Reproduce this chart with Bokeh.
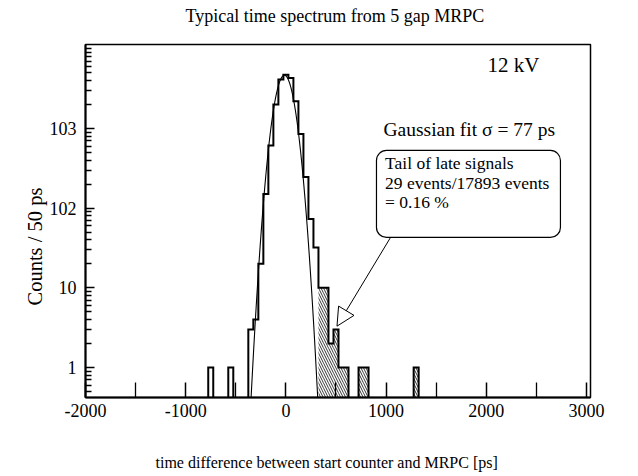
import numpy as np
from bokeh.plotting import figure
from bokeh.models import (Range1d, FixedTicker, Label, BoxAnnotation, Arrow,
                          NormalHead, ColumnDataSource, Title)
from bokeh.embed import file_html
from bokeh.resources import INLINE

# ---------------- data ----------------
bin_width = 50  # ps
core_centers = [-750, -550, -350, -300, -250, -200, -150, -100, -50, 0, 50,
                100, 150, 200, 250, 300]
core_counts = [1, 1, 3, 4, 20, 150, 610, 2000, 4100, 4700, 4300,
               2200, 850, 245, 73, 32]
tail_centers = [350, 400, 450, 500, 550, 600, 750, 800, 1300]
tail_counts = [10, 10, 2, 3, 1, 1, 1, 1, 1]

fit_mean = -15.0      # ps
fit_sigma = 77.0      # ps (quoted on the chart)
fit_amplitude = 4650  # counts / bin at the mean

x_ticks = [-2000, -1000, 0, 1000, 2000, 3000]
x_tick_labels = ["-2000", "-1000", "0", "1000", "2000", "3000"]
x_minor_ticks = [-1500, -500, 500, 1500, 2500]
y_ticks = [1, 10, 100, 1000]
y_tick_labels = ["1", "10", "102", "103"]

title_text = "Typical time spectrum from 5 gap MRPC"
x_label_text = "time difference between start counter and MRPC [ps]"
y_label_text = "Counts / 50 ps"
hv_text = "12 kV"
fit_text = "Gaussian fit  \u03c3 = 77 ps"
box_lines = ["Tail of late signals", "29 events/17893 events", "= 0.16 %"]

# ---------------- style ----------------
FONT = "Liberation Serif"
FLOOR = 0.1  # below the visible y range

p = figure(width=638, height=476,
           x_range=Range1d(-2000, 3040), y_range=Range1d(0.42, 11300),
           y_axis_type="log", output_backend="svg", toolbar_location=None,
           min_border_left=85, min_border_right=48,
           min_border_top=44, min_border_bottom=79)
p.grid.visible = False
p.outline_line_color = "black"
p.outline_line_width = 1.5
p.background_fill_color = "white"
p.border_fill_color = "white"

# axes
p.xaxis.ticker = FixedTicker(ticks=x_ticks, minor_ticks=x_minor_ticks)
p.xaxis.major_label_overrides = {t: l for t, l in zip(x_ticks, x_tick_labels)}
y_minor = []
for dec in [0.1, 1, 10, 100, 1000]:
    for k in range(2, 10):
        y_minor.append(k * dec)
y_minor.append(10000)
p.yaxis.ticker = FixedTicker(ticks=y_ticks, minor_ticks=y_minor)
p.yaxis.major_label_overrides = {t: l for t, l in zip(y_ticks, y_tick_labels)}

for ax in (p.xaxis[0], p.yaxis[0]):
    ax.axis_line_width = 2
    ax.axis_line_color = "black"
    ax.major_tick_out = 0
    ax.minor_tick_out = 0
    ax.major_tick_line_color = "black"
    ax.minor_tick_line_color = "black"
    ax.major_tick_line_width = 1.5
    ax.minor_tick_line_width = 1.3
    ax.major_label_text_font = FONT
    ax.major_label_text_font_size = "18px"
    ax.major_label_text_color = "black"
p.xaxis.major_tick_in = 15
p.xaxis.minor_tick_in = 15
p.xaxis.major_label_standoff = 6
p.yaxis.major_tick_in = 9
p.yaxis.minor_tick_in = 6
p.yaxis.major_label_standoff = 9

# ---------------- histogram ----------------
half = bin_width / 2.0
tail_src = ColumnDataSource(dict(
    left=[c - half for c in tail_centers],
    right=[c + half for c in tail_centers],
    top=tail_counts,
    bottom=[FLOOR] * len(tail_centers)))
p.quad(left="left", right="right", top="top", bottom="bottom", source=tail_src,
       fill_color=None, line_color=None, hatch_pattern="\\", hatch_color="black",
       hatch_scale=5, hatch_weight=0.8)

# gaussian fit curve (from fit parameters)
fx = np.linspace(-420, 400, 700)
fy = fit_amplitude * np.exp(-0.5 * ((fx - fit_mean) / fit_sigma) ** 2)
p.line(fx, fy, line_color="black", line_width=1.1)

# step outline of the whole histogram
pairs = sorted(zip(core_centers + tail_centers, core_counts + tail_counts))
xs, ys = [], []
seg_x, seg_y, prev_r = [], [], None
for c, n in pairs:
    l, r = c - half, c + half
    if prev_r is None or abs(l - prev_r) > 1e-6:
        if seg_x:
            seg_x.append(prev_r)
            seg_y.append(FLOOR)
            xs.append(seg_x)
            ys.append(seg_y)
        seg_x, seg_y = [l], [FLOOR]
    seg_x += [l, r]
    seg_y += [n, n]
    prev_r = r
seg_x.append(prev_r)
seg_y.append(FLOOR)
xs.append(seg_x)
ys.append(seg_y)
p.multi_line(xs, ys, line_color="black", line_width=2, line_join="miter")

# ---------------- annotations inside the frame ----------------
def add_label(text, x, y, size="18px", align="left", baseline="middle"):
    p.add_layout(Label(x=x, y=y, text=text,
                       text_font=FONT, text_font_size=size, text_color="black",
                       text_align=align, text_baseline=baseline))

add_label(hv_text, 2271, 6170, size="21px", align="center")
add_label(fit_text, 974, 971, size="19.5px", align="left")

p.add_layout(BoxAnnotation(left=904, right=2740, bottom=42.8, top=529,
                           fill_color="white", fill_alpha=1.0,
                           line_color="black", line_alpha=1.0, line_width=1.2,
                           border_radius=10))
for txt, yv in zip(box_lines, [363, 207, 118]):
    add_label(txt, 990, yv, size="17.5px", align="left", baseline="middle")

p.add_layout(Arrow(x_start=1044, y_start=42.8, x_end=510, y_end=3.3,
                   line_color="black", line_width=1,
                   end=NormalHead(size=18, fill_color="white",
                                  line_color="black", line_width=1)))

# ---------------- title and axis labels (side panels) ----------------
def side_title(text, size, offset, standoff=0, valign="middle"):
    return Title(text=text, align="left", offset=offset, standoff=standoff,
                 vertical_align=valign, text_font=FONT, text_font_size=size,
                 text_font_style="normal", text_color="black")

# above: spacer next to the frame, then the title
p.add_layout(side_title(" ", "1px", 0, standoff=15), "above")
p.add_layout(side_title(title_text, "18px", 100), "above")
# below: axis, spacer, then the x label
p.add_layout(side_title(" ", "1px", 0, standoff=30), "below")
p.add_layout(side_title(x_label_text, "16px", 70), "below")
# left: axis, then the y label
p.add_layout(side_title(y_label_text, "20.5px", 92, standoff=0), "left")

open("out.html", "w").write(file_html(p, INLINE))
